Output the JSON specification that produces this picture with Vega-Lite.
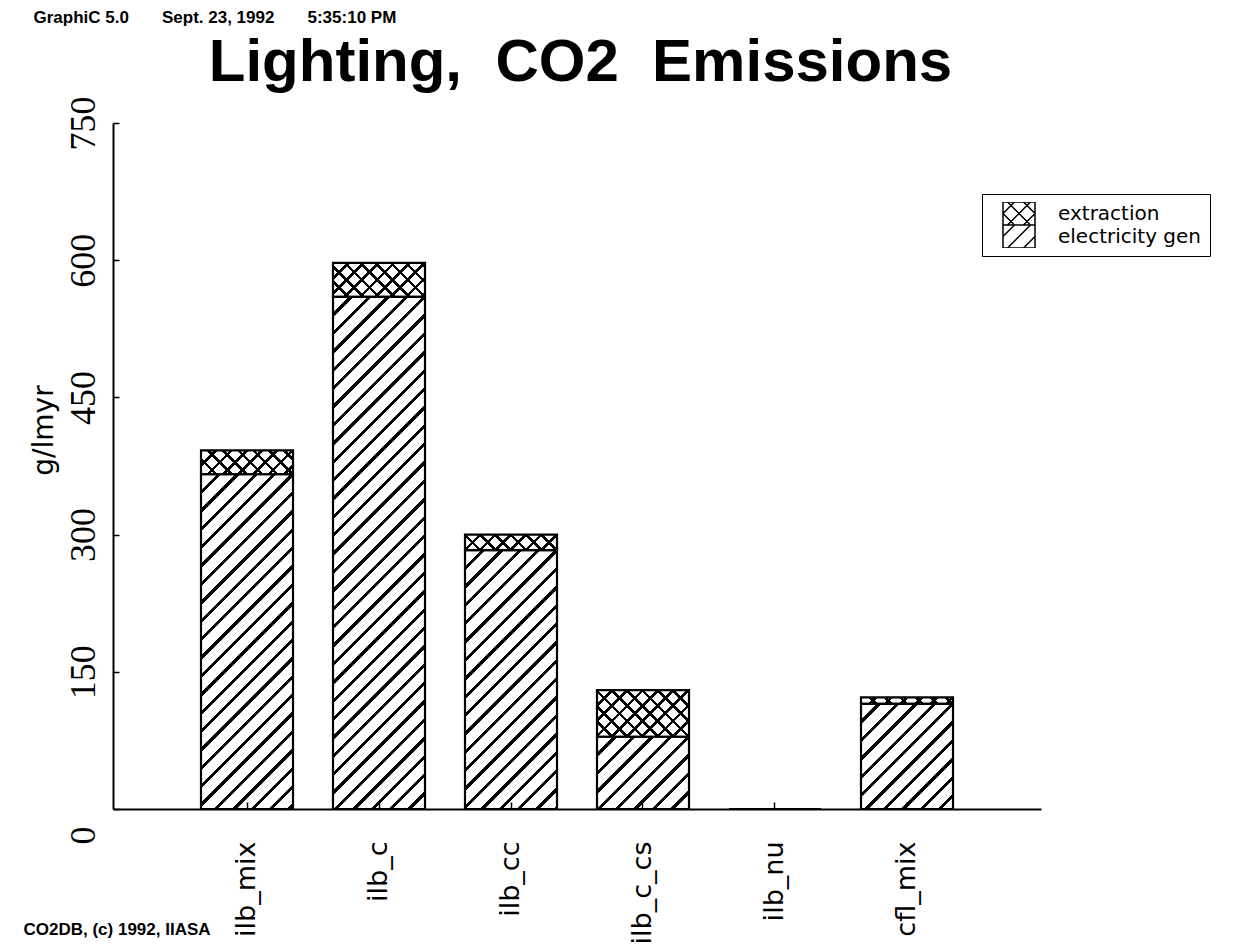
{
  "$schema": "https://vega.github.io/schema/vega-lite/v6.json",
  "width": 928,
  "height": 686,
  "autosize": {"type": "none"},
  "padding": {"left": 113, "top": 123, "right": 209, "bottom": 138},
  "background": "white",
  "config": {
    "view": {"stroke": null},
    "axis": {"grid": false, "domainColor": "black", "tickColor": "black", "labelColor": "black", "titleColor": "black"}
  },
  "params": [
    {"name": "stripes", "value": [
      {"offset":0.022,"color":"transparent"},{"offset":0.022,"color":"black"},{"offset":0.028,"color":"black"},{"offset":0.028,"color":"transparent"},
      {"offset":0.047,"color":"transparent"},{"offset":0.047,"color":"black"},{"offset":0.053,"color":"black"},{"offset":0.053,"color":"transparent"},
      {"offset":0.072,"color":"transparent"},{"offset":0.072,"color":"black"},{"offset":0.078,"color":"black"},{"offset":0.078,"color":"transparent"},
      {"offset":0.097,"color":"transparent"},{"offset":0.097,"color":"black"},{"offset":0.103,"color":"black"},{"offset":0.103,"color":"transparent"},
      {"offset":0.122,"color":"transparent"},{"offset":0.122,"color":"black"},{"offset":0.128,"color":"black"},{"offset":0.128,"color":"transparent"},
      {"offset":0.147,"color":"transparent"},{"offset":0.147,"color":"black"},{"offset":0.153,"color":"black"},{"offset":0.153,"color":"transparent"},
      {"offset":0.172,"color":"transparent"},{"offset":0.172,"color":"black"},{"offset":0.178,"color":"black"},{"offset":0.178,"color":"transparent"},
      {"offset":0.197,"color":"transparent"},{"offset":0.197,"color":"black"},{"offset":0.203,"color":"black"},{"offset":0.203,"color":"transparent"},
      {"offset":0.222,"color":"transparent"},{"offset":0.222,"color":"black"},{"offset":0.228,"color":"black"},{"offset":0.228,"color":"transparent"},
      {"offset":0.247,"color":"transparent"},{"offset":0.247,"color":"black"},{"offset":0.253,"color":"black"},{"offset":0.253,"color":"transparent"},
      {"offset":0.272,"color":"transparent"},{"offset":0.272,"color":"black"},{"offset":0.278,"color":"black"},{"offset":0.278,"color":"transparent"},
      {"offset":0.297,"color":"transparent"},{"offset":0.297,"color":"black"},{"offset":0.303,"color":"black"},{"offset":0.303,"color":"transparent"},
      {"offset":0.322,"color":"transparent"},{"offset":0.322,"color":"black"},{"offset":0.328,"color":"black"},{"offset":0.328,"color":"transparent"},
      {"offset":0.347,"color":"transparent"},{"offset":0.347,"color":"black"},{"offset":0.353,"color":"black"},{"offset":0.353,"color":"transparent"},
      {"offset":0.372,"color":"transparent"},{"offset":0.372,"color":"black"},{"offset":0.378,"color":"black"},{"offset":0.378,"color":"transparent"},
      {"offset":0.397,"color":"transparent"},{"offset":0.397,"color":"black"},{"offset":0.403,"color":"black"},{"offset":0.403,"color":"transparent"},
      {"offset":0.422,"color":"transparent"},{"offset":0.422,"color":"black"},{"offset":0.428,"color":"black"},{"offset":0.428,"color":"transparent"},
      {"offset":0.447,"color":"transparent"},{"offset":0.447,"color":"black"},{"offset":0.453,"color":"black"},{"offset":0.453,"color":"transparent"},
      {"offset":0.472,"color":"transparent"},{"offset":0.472,"color":"black"},{"offset":0.478,"color":"black"},{"offset":0.478,"color":"transparent"},
      {"offset":0.497,"color":"transparent"},{"offset":0.497,"color":"black"},{"offset":0.503,"color":"black"},{"offset":0.503,"color":"transparent"},
      {"offset":0.522,"color":"transparent"},{"offset":0.522,"color":"black"},{"offset":0.528,"color":"black"},{"offset":0.528,"color":"transparent"},
      {"offset":0.547,"color":"transparent"},{"offset":0.547,"color":"black"},{"offset":0.553,"color":"black"},{"offset":0.553,"color":"transparent"},
      {"offset":0.572,"color":"transparent"},{"offset":0.572,"color":"black"},{"offset":0.578,"color":"black"},{"offset":0.578,"color":"transparent"},
      {"offset":0.597,"color":"transparent"},{"offset":0.597,"color":"black"},{"offset":0.603,"color":"black"},{"offset":0.603,"color":"transparent"},
      {"offset":0.622,"color":"transparent"},{"offset":0.622,"color":"black"},{"offset":0.628,"color":"black"},{"offset":0.628,"color":"transparent"},
      {"offset":0.647,"color":"transparent"},{"offset":0.647,"color":"black"},{"offset":0.653,"color":"black"},{"offset":0.653,"color":"transparent"},
      {"offset":0.672,"color":"transparent"},{"offset":0.672,"color":"black"},{"offset":0.678,"color":"black"},{"offset":0.678,"color":"transparent"},
      {"offset":0.697,"color":"transparent"},{"offset":0.697,"color":"black"},{"offset":0.703,"color":"black"},{"offset":0.703,"color":"transparent"},
      {"offset":0.722,"color":"transparent"},{"offset":0.722,"color":"black"},{"offset":0.728,"color":"black"},{"offset":0.728,"color":"transparent"},
      {"offset":0.747,"color":"transparent"},{"offset":0.747,"color":"black"},{"offset":0.753,"color":"black"},{"offset":0.753,"color":"transparent"},
      {"offset":0.772,"color":"transparent"},{"offset":0.772,"color":"black"},{"offset":0.778,"color":"black"},{"offset":0.778,"color":"transparent"},
      {"offset":0.797,"color":"transparent"},{"offset":0.797,"color":"black"},{"offset":0.803,"color":"black"},{"offset":0.803,"color":"transparent"},
      {"offset":0.822,"color":"transparent"},{"offset":0.822,"color":"black"},{"offset":0.828,"color":"black"},{"offset":0.828,"color":"transparent"},
      {"offset":0.847,"color":"transparent"},{"offset":0.847,"color":"black"},{"offset":0.853,"color":"black"},{"offset":0.853,"color":"transparent"}
    ]}
  ],
  "data": {
    "values": [
      {"tech": "ilb_mix", "series": "electricity gen", "value": 366},
      {"tech": "ilb_mix", "series": "extraction", "value": 26},
      {"tech": "ilb_c", "series": "electricity gen", "value": 560},
      {"tech": "ilb_c", "series": "extraction", "value": 37},
      {"tech": "ilb_cc", "series": "electricity gen", "value": 283},
      {"tech": "ilb_cc", "series": "extraction", "value": 17},
      {"tech": "ilb_c_cs", "series": "electricity gen", "value": 79},
      {"tech": "ilb_c_cs", "series": "extraction", "value": 51},
      {"tech": "ilb_nu", "series": "electricity gen", "value": 0},
      {"tech": "ilb_nu", "series": "extraction", "value": 0},
      {"tech": "cfl_mix", "series": "electricity gen", "value": 115},
      {"tech": "cfl_mix", "series": "extraction", "value": 7}
    ]
  },
  "layer": [
    {
      "mark": {
        "type": "bar",
        "strokeWidth": 0,
        "fill": {"expr": "{gradient: 'linear', x1: 0, y1: 0, x2: bandwidth('x') * (datum.series == 'extraction' ? 610.94 : 735.39) / (pow(bandwidth('x'), 2) + pow(scale('y', datum.value_start) - scale('y', datum.value_end), 2)), y2: (scale('y', datum.value_start) - scale('y', datum.value_end)) * (datum.series == 'extraction' ? 610.94 : 735.39) / (pow(bandwidth('x'), 2) + pow(scale('y', datum.value_start) - scale('y', datum.value_end), 2)), stops: stripes}"}
      },
      "encoding": {
        "x": {
          "field": "tech", "type": "nominal", "sort": null,
          "scale": {"paddingInner": 0.30303, "paddingOuter": 0.66667},
          "axis": {
            "orient": "bottom",
            "title": "CO2DB, (c) 1992, IIASA",
            "titleX": -90, "titleY": 125, "titleAngle": 0, "titleAlign": "left", "titleBaseline": "alphabetic",
            "titleFont": "Liberation Sans", "titleFontWeight": "bold", "titleFontSize": 17,
            "labelAngle": -90, "labelAlign": "right", "labelBaseline": "middle",
            "labelFont": "DejaVu Sans", "labelFontSize": 27,
            "labelPadding": 39, "labelOverlap": false,
            "tickSize": -7, "tickWidth": 1.5, "domainWidth": 2
          }
        },
        "y": {
          "field": "value", "type": "quantitative", "stack": "zero",
          "scale": {"domain": [0, 750], "nice": false},
          "axis": {
            "orient": "left",
            "values": [0, 150, 300, 450, 600, 750],
            "title": "g/lmyr",
            "titleX": -61, "titleY": 307, "titleAngle": 270, "titleAlign": "center", "titleBaseline": "alphabetic",
            "titleFont": "DejaVu Sans", "titleFontWeight": "normal", "titleFontSize": 28,
            "labelAngle": -90, "labelAlign": "center", "labelBaseline": "alphabetic",
            "labelFont": "Liberation Sans Narrow", "labelFontSize": 36,
            "labelPadding": 25,
            "labelOffset": {"condition": {"test": "datum.value === 0", "value": 26}, "value": 0},
            "labelOverlap": false, "labelFlush": false,
            "tickSize": -6, "tickWidth": 1.5, "domainWidth": 2
          }
        },
        "detail": {"field": "series"},
        "order": {"field": "series", "sort": "ascending"}
      }
    },
    {
      "mark": {
        "type": "bar",
        "stroke": "black",
        "strokeWidth": 2.2,
        "fill": {"expr": "datum.series == 'extraction' ? {gradient: 'linear', x1: 0, y1: 1, x2: bandwidth('x') * 610.94 / (pow(bandwidth('x'), 2) + pow(scale('y', datum.value_start) - scale('y', datum.value_end), 2)), y2: 1 - (scale('y', datum.value_start) - scale('y', datum.value_end)) * 610.94 / (pow(bandwidth('x'), 2) + pow(scale('y', datum.value_start) - scale('y', datum.value_end), 2)), stops: stripes} : 'transparent'"}
      },
      "encoding": {
        "x": {
          "field": "tech", "type": "nominal", "sort": null,
          "axis": {
            "orient": "top", "labels": false, "ticks": false, "domain": false,
            "title": "Lighting,\u00a0 CO2\u00a0 Emissions",
            "titleX": 467, "titleY": -43, "titleAngle": 0, "titleAlign": "center", "titleBaseline": "alphabetic",
            "titleFont": "Liberation Sans", "titleFontWeight": "bold", "titleFontSize": 60
          }
        },
        "y": {
          "field": "value", "type": "quantitative", "stack": "zero",
          "axis": {
            "orient": "right", "labels": false, "ticks": false, "domain": false,
            "title": "GraphiC 5.0\u00a0\u00a0\u00a0\u00a0\u00a0\u00a0\u00a0Sept. 23, 1992\u00a0\u00a0\u00a0\u00a0\u00a0\u00a0\u00a05:35:10 PM",
            "titleX": -1008, "titleY": -101, "titleAngle": 0, "titleAlign": "left", "titleBaseline": "alphabetic",
            "titleFont": "Liberation Sans", "titleFontWeight": "bold", "titleFontSize": 17
          }
        },
        "detail": {"field": "series"},
        "order": {"field": "series", "sort": "ascending"}
      }
    },
    {
      "mark": {"type": "point", "filled": false, "opacity": 0},
      "encoding": {
        "x": {"field": "tech", "type": "nominal", "sort": null, "axis": null},
        "y": {"field": "value", "type": "quantitative", "axis": null},
        "shape": {
          "field": "series", "type": "nominal",
          "scale": {
            "domain": ["extraction", "electricity gen"],
            "range": [
              "M0.2,-1.15H3.4V1.15H0.2Z M0.65,1.15L2.95,-1.15 M2.25,1.15L3.4,0 M0.2,0L1.35,-1.15 M0.65,-1.15L2.95,1.15 M0.2,0L1.35,1.15 M2.25,-1.15L3.4,0",
              "M0.2,-1.15H3.4V1.15H0.2Z M0.65,1.15L2.95,-1.15 M2.25,1.15L3.4,0 M0.2,0L1.35,-1.15"
            ]
          },
          "legend": {
            "title": null,
            "orient": "none", "legendX": 869, "legendY": 71,
            "direction": "vertical",
            "symbolSize": 400, "symbolStrokeColor": "black", "symbolStrokeWidth": 1.5,
            "symbolFillColor": "transparent", "symbolOpacity": 1,
            "labelFont": "DejaVu Sans", "labelFontSize": 20, "labelColor": "black",
            "labelOffset": 46, "labelLimit": 400, "rowPadding": 0, "clipHeight": 23,
            "padding": 8, "strokeColor": "black", "fillColor": "white",
            "encode": {
              "symbols": {
                "update": {
                  "opacity": {"value": 1},
                  "strokeOpacity": {"value": 1},
                  "stroke": {"value": "black"},
                  "fill": {"value": "transparent"}
                }
              }
            }
          }
        }
      }
    }
  ],
  "resolve": {"axis": {"x": "independent", "y": "independent"}}
}
